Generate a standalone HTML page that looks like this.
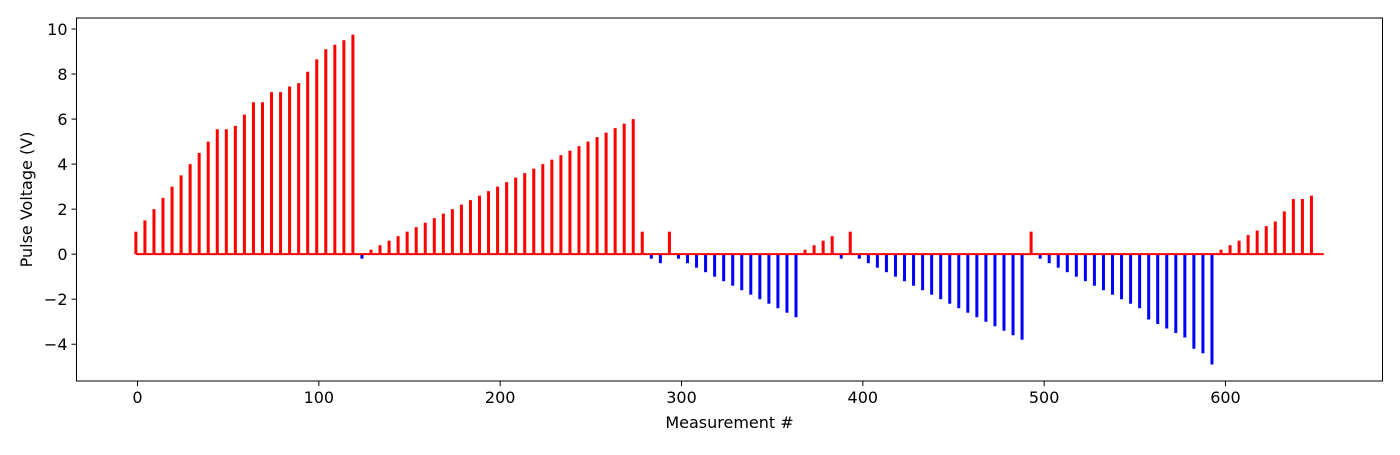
<!DOCTYPE html>
<html><head><meta charset="utf-8"><style>
body{margin:0;background:#fff;}
svg text{font-family:"DejaVu Sans","Liberation Sans",sans-serif;font-size:16px;fill:#000;}
</style></head><body>
<svg id="chart" width="1400" height="450">
<rect x="0" y="0" width="1400" height="450" fill="#fff"/>
<g id="marks"></g>
<g id="axes"></g>
</svg>
<script>
const xStart = -0.9;
const xStep = 4.987;
const voltages = [1.0,1.5,2.0,2.5,3.0,3.5,4.0,4.5,5.0,5.55,5.55,5.7,6.2,6.75,6.75,7.2,7.2,7.45,7.6,8.1,8.65,9.1,9.3,9.5,9.75,
-0.2,0.2,0.4,0.6,0.8,1.0,1.2,1.4,1.6,1.8,2.0,2.2,2.4,2.6,2.8,3.0,3.2,3.4,3.6,3.8,4.0,4.2,4.4,4.6,4.8,5.0,5.2,5.4,5.6,5.8,6.0,
1.0,-0.2,-0.4,1.0,-0.2,-0.4,-0.6,-0.8,-1.0,-1.2,-1.4,-1.6,-1.8,-2.0,-2.2,-2.4,-2.6,-2.8,
0.2,0.4,0.6,0.8,-0.2,1.0,
-0.2,-0.4,-0.6,-0.8,-1.0,-1.2,-1.4,-1.6,-1.8,-2.0,-2.2,-2.4,-2.6,-2.8,-3.0,-3.2,-3.4,-3.6,-3.8,
1.0,
-0.2,-0.4,-0.6,-0.8,-1.0,-1.2,-1.4,-1.6,-1.8,-2.0,-2.2,-2.4,-2.9,-3.1,-3.3,-3.5,-3.7,-4.2,-4.4,-4.9,
0.2,0.4,0.6,0.85,1.05,1.25,1.45,1.9,2.45,2.45,2.6];
const xTicks = [0,100,200,300,400,500,600];
const yTicks = [-4,-2,0,2,4,6,8,10];
const baselineEnd = 654.2;

const L=76.5,R=1382.5,T=18,B=381;
const xMin=-33.65,xMax=686.6,yMin=-5.633,yMax=10.49;
const sx=v=>L+(v-xMin)/(xMax-xMin)*(R-L);
const sy=v=>B-(v-yMin)/(yMax-yMin)*(B-T);
const NS="http://www.w3.org/2000/svg";
function mk(tag,attrs,parent){const e=document.createElementNS(NS,tag);for(const k in attrs)e.setAttribute(k,attrs[k]);parent.appendChild(e);return e;}
const marks=document.getElementById('marks'), axes=document.getElementById('axes');
voltages.forEach((v,i)=>{
  const x=sx(xStart+i*xStep);
  const l=mk('line',{x1:x,x2:x,y1:sy(0),y2:sy(v),stroke:v>=0?'#ff0000':'#0000ff','stroke-width':3},marks);
  
  
});
const bl=mk('line',{x1:sx(xStart),x2:sx(baselineEnd),y1:sy(0),y2:sy(0),stroke:'#ff0000','stroke-width':2},marks);


const fr=mk('rect',{x:L,y:T,width:R-L,height:B-T,fill:'none',stroke:'#000','stroke-width':1},axes);


xTicks.forEach(t=>{
  const x=sx(t);
  const tk=mk('line',{x1:x,x2:x,y1:B,y2:B+5,stroke:'#000'},axes);
  
  
  const tx=mk('text',{x:x,y:B+22,'text-anchor':'middle'},axes);tx.textContent=t;
  
  
});
yTicks.forEach(t=>{
  const y=sy(t);
  const tk=mk('line',{x1:L-5,x2:L,y1:y,y2:y,stroke:'#000'},axes);
  
  
  const tx=mk('text',{x:L-9,y:y+6,'text-anchor':'end'},axes);tx.textContent=t<0?'\u2212'+Math.abs(t):t;
  
  
});
const xt=mk('text',{x:(L+R)/2,y:428,'text-anchor':'middle'},axes);xt.textContent='Measurement #';


const yt=mk('text',{x:0,y:0,'text-anchor':'middle',transform:`translate(32,${(T+B)/2}) rotate(-90)`},axes);yt.textContent='Pulse Voltage (V)';


</script>
</body></html>
